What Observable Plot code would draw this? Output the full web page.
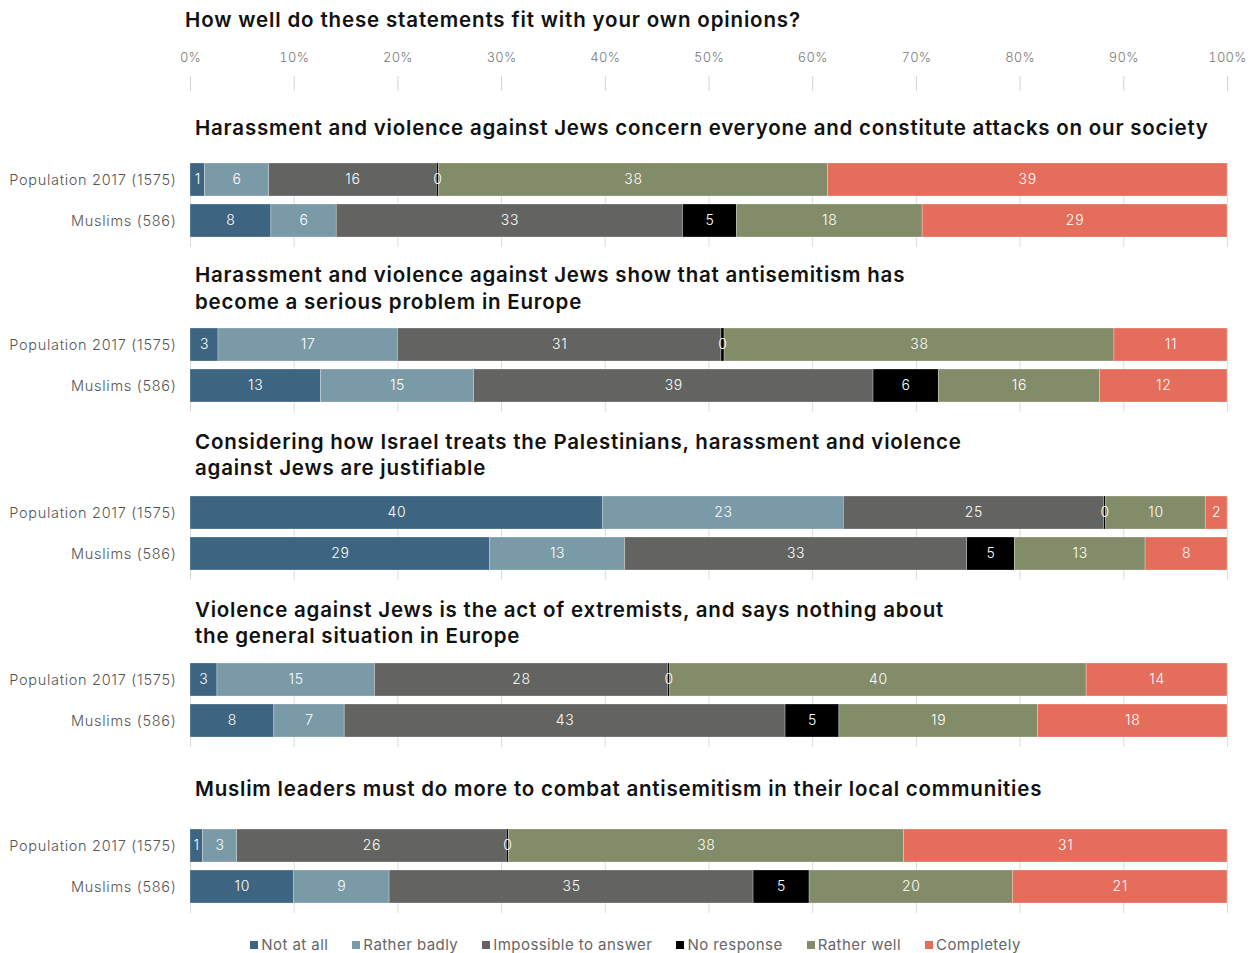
<!DOCTYPE html>
<html>
<head>
<meta charset="utf-8">
<script src="https://cdn.jsdelivr.net/npm/d3@7"></script>
<script src="https://cdn.jsdelivr.net/npm/@observablehq/plot@0.6"></script>
<style>
  body { margin: 0; background: #fff; font-family: Inter, "Noto Sans", sans-serif; }
  #root { position: relative; width: 1251px; height: 953px; overflow: hidden; }
  .title { position: absolute; left: 185px; top: 7px; font-size: 20.5px; font-weight: 600; color: #111; line-height: 26px; white-space: nowrap; letter-spacing: 0.85px; }
  .q { position: absolute; left: 195px; font-size: 20.5px; font-weight: 600; color: #111; line-height: 26.5px; white-space: pre-line; letter-spacing: 0.78px; }
  .plot { position: absolute; left: 0; }
  .legend { position: absolute; top: 935px; left: 10px; width: 1251px; display: flex; justify-content: center; gap: 24px; font-size: 15px; color: #666; line-height: 20px; letter-spacing: 0.45px; }
  .legend span.item { display: inline-flex; align-items: center; }
  .legend span.sw { display: inline-block; width: 8px; height: 8px; margin-right: 3px; }
</style>
</head>
<body>
<div id="root"></div>
<script>
const chartTitle = "How well do these statements fit with your own opinions?";
const categories = ["Not at all", "Rather badly", "Impossible to answer", "No response", "Rather well", "Completely"];
const colors = ["#3d6480", "#7b9aa8", "#636361", "#000000", "#838c68", "#e46e5b"];
const groups = ["Population 2017 (1575)", "Muslims (586)"];
const tickValues = [0, 0.1, 0.2, 0.3, 0.4, 0.5, 0.6, 0.7, 0.8, 0.9, 1];
const tickLabels = ["0%", "10%", "20%", "30%", "40%", "50%", "60%", "70%", "80%", "90%", "100%"];
const questions = [
  "Harassment and violence against Jews concern everyone and constitute attacks on our society",
  "Harassment and violence against Jews show that antisemitism has\nbecome a serious problem in Europe",
  "Considering how Israel treats the Palestinians, harassment and violence\nagainst Jews are justifiable",
  "Violence against Jews is the act of extremists, and says nothing about\nthe general situation in Europe",
  "Muslim leaders must do more to combat antisemitism in their local communities"
];
// values per category, in the order of `categories`
const q1Population = [1.4, 6.2, 16.2, 0.2, 37.6, 38.6];
const q1Muslims    = [7.8, 6.3, 33.4, 5.2, 17.9, 29.4];
const q2Population = [2.7, 17.3, 31.2, 0.3, 37.6, 10.9];
const q2Muslims    = [12.6, 14.8, 38.6, 6.3, 15.6, 12.3];
const q3Population = [39.8, 23.2, 25.1, 0.2, 9.6, 2.1];
const q3Muslims    = [28.9, 13.0, 33.0, 4.6, 12.6, 7.9];
const q4Population = [2.6, 15.2, 28.3, 0.2, 40.2, 13.6];
const q4Muslims    = [8.1, 6.8, 42.6, 5.2, 19.2, 18.3];
const q5Population = [1.2, 3.3, 26.0, 0.2, 38.1, 31.2];
const q5Muslims    = [10.0, 9.2, 35.1, 5.4, 19.6, 20.7];

const series = [
  [q1Population, q1Muslims],
  [q2Population, q2Muslims],
  [q3Population, q3Muslims],
  [q4Population, q4Muslims],
  [q5Population, q5Muslims]
];

// layout (pixels)
const titleTops = [115, 262, 428.5, 596.5, 776];
const plotTops = [163, 328, 496, 663, 829];
const W = 1251, ML = 190, MR = 24;

const root = document.getElementById("root");
const t = document.createElement("div");
t.className = "title";
t.textContent = chartTitle;
root.appendChild(t);

// top axis
const axisPlot = Plot.plot({
  width: W, height: 91, marginLeft: ML, marginRight: MR, marginTop: 90, marginBottom: 1,
  style: {fontFamily: "Inter, 'Noto Sans', sans-serif", fontSize: "13px", background: "transparent", letterSpacing: "0.3px"},
  x: {domain: [0, 1]},
  marks: [
    Plot.axisX(tickValues, {anchor: "top", tickSize: 15, stroke: "#d4d4d4", strokeOpacity: 1, tickFormat: () => "", label: null}),
    Plot.axisX(tickValues, {anchor: "top", tickSize: 0, tickPadding: 29, fill: "#7a7a7a", fontWeight: 300, tickFormat: (d, i) => tickLabels[i], label: null})
  ]
});
axisPlot.classList.add("plot");
axisPlot.style.top = "0px";
root.appendChild(axisPlot);

questions.forEach((q, qi) => {
  const qd = document.createElement("div");
  qd.className = "q";
  qd.style.top = titleTops[qi] + "px";
  qd.textContent = q;
  root.appendChild(qd);

  const rows = [];
  groups.forEach((g, gi) => {
    categories.forEach((c, ci) => rows.push({group: g, category: c, value: series[qi][gi][ci]}));
  });

  const stackOpts = {offset: "normalize", order: categories, x: "value", y: "group", z: "category"};
  const p = Plot.plot({
    width: W, height: 84, marginLeft: ML, marginRight: MR, marginTop: 0, marginBottom: 10,
    style: {fontFamily: "Inter, 'Noto Sans', sans-serif", fontSize: "14.5px", background: "transparent", letterSpacing: "0.7px"},
    x: {domain: [0, 1], axis: null},
    y: {domain: groups, paddingInner: 0.2, paddingOuter: 0, axis: null},
    color: {domain: categories, range: colors},
    marks: [
      Plot.gridX(tickValues, {stroke: "#dcdcdc", strokeOpacity: 1}),
      Plot.axisX(tickValues, {anchor: "bottom", tickSize: 10, stroke: "#dcdcdc", strokeOpacity: 1, tickFormat: () => "", label: null}),
      Plot.barX(rows, Plot.stackX({...stackOpts, fill: "category", stroke: "#ffffff", strokeOpacity: 0.45, strokeWidth: 0.6})),
      Plot.textX(rows, Plot.stackX({...stackOpts, text: d => String(Math.round(d.value)), fill: "#ffffff", fontSize: 14, fontWeight: 300})),
      Plot.axisY({tickSize: 0, tickPadding: 14, fill: "#555", fontWeight: 300, label: null})
    ]
  });
  p.classList.add("plot");
  p.style.top = plotTops[qi] + "px";
  root.appendChild(p);
});

// legend
const lg = document.createElement("div");
lg.className = "legend";
categories.forEach((c, i) => {
  const it = document.createElement("span");
  it.className = "item";
  const sw = document.createElement("span");
  sw.className = "sw";
  sw.style.background = colors[i];
  it.appendChild(sw);
  it.appendChild(document.createTextNode(c));
  lg.appendChild(it);
});
root.appendChild(lg);
</script>
</body>
</html>
